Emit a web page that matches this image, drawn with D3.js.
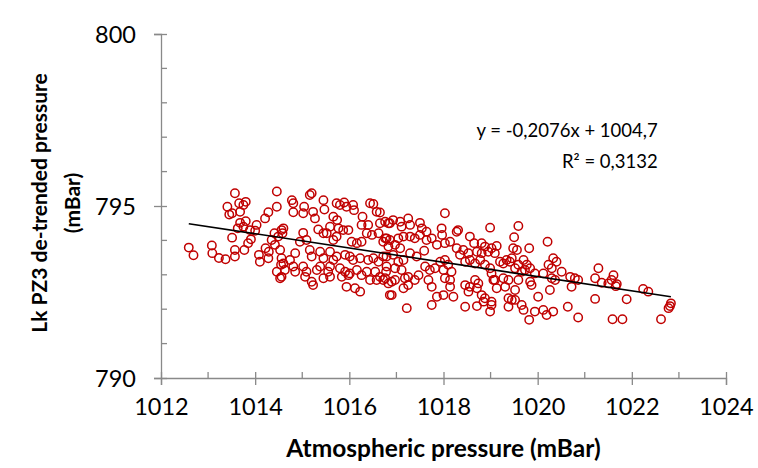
<!DOCTYPE html>
<html>
<head>
<meta charset="utf-8">
<script src="https://cdn.jsdelivr.net/npm/d3@7"></script>
<style>
  body { margin: 0; background: #fff; }
  svg { font-family: Lato, sans-serif; }
</style>
</head>
<body>
<svg id="chart"></svg>
<script>
// atmospheric pressure (mBar) vs Lk PZ3 de-trended pressure (mBar)
const points = [
  [1012.59,793.79],[1012.69,793.57],[1013.08,793.85],[1013.09,793.63],[1013.23,793.49],
  [1013.37,793.45],[1013.51,794.08],[1013.57,795.37],[1013.41,794.98],[1013.45,794.75],
  [1013.51,794.79],[1013.66,795.08],[1013.68,794.83],[1013.75,795.03],[1013.80,795.12],
  [1013.68,794.51],[1013.80,794.56],[1013.63,794.35],[1013.75,794.40],[1013.89,794.30],
  [1014.03,794.45],[1014.00,794.28],[1014.21,794.64],[1014.28,794.82],[1014.46,795.42],
  [1014.46,794.98],[1013.57,793.72],[1013.57,793.53],[1013.77,793.72],[1013.85,793.92],
  [1013.91,794.03],[1014.08,793.58],[1014.10,793.38],[1014.22,793.77],[1014.28,793.48],
  [1014.29,793.67],[1014.42,793.87],[1014.41,794.21],[1014.49,794.11],[1014.56,794.30],
  [1014.58,794.21],[1014.46,793.09],[1014.55,793.29],[1014.56,792.94],[1014.56,793.48],
  [1014.35,794.01],
  [1014.78,795.17],[1014.81,795.08],[1014.81,794.82],[1015.16,795.32],[1015.20,795.37],
  [1015.04,794.98],[1015.02,794.79],[1015.23,794.83],[1015.27,794.64],[1015.45,795.17],
  [1015.47,794.90],[1015.73,795.08],[1015.80,795.03],[1015.89,795.10],[1015.94,794.98],
  [1016.08,795.03],[1016.10,794.88],[1015.66,794.69],[1015.74,794.59],[1016.44,795.08],
  [1016.51,795.06],[1016.58,794.83],[1016.65,794.81],[1016.28,794.69],[1016.26,794.45],
  [1016.40,794.45],[1016.65,794.50],[1016.83,794.50],[1014.60,794.35],[1015.02,794.22],
  [1014.95,793.96],[1015.09,794.01],[1015.34,794.32],[1015.45,794.21],[1015.52,794.21],
  [1015.59,794.40],[1015.77,794.35],[1015.87,794.30],[1015.98,794.30],[1015.66,794.01],
  [1015.73,794.11],[1016.05,793.96],[1016.16,793.92],[1016.26,793.96],[1016.37,794.21],
  [1016.48,794.16],[1016.62,794.21],[1016.72,793.96],[1016.79,794.06],[1014.53,793.72],
  [1014.85,793.63],[1014.74,793.43],[1015.16,793.72],[1015.20,793.53],[1015.38,793.67],
  [1015.45,793.48],[1015.59,793.67],[1015.66,793.43],[1015.73,793.53],[1015.91,793.58],
  [1016.01,793.53],[1016.08,793.43],[1016.23,793.48],[1016.40,793.43],[1016.51,793.48],
  [1016.62,793.38],[1016.72,793.53],[1014.60,793.33],[1014.63,793.14],[1014.81,793.24],
  [1014.85,793.09],[1015.02,793.24],[1015.09,793.09],[1015.31,793.14],[1015.38,793.24],
  [1015.59,793.24],[1015.55,793.09],[1015.80,793.19],[1015.91,793.09],[1016.01,793.04],
  [1016.16,793.14],[1016.26,792.99],[1016.37,793.09],[1016.55,793.09],[1016.65,792.94],
  [1016.78,793.09],[1014.53,792.90],[1015.06,792.94],[1015.20,792.80],[1015.23,792.70],
  [1015.45,792.90],[1015.59,792.94],[1015.84,792.94],[1015.98,792.99],[1015.94,792.65],
  [1016.12,792.61],[1016.23,792.51],[1016.44,792.85],[1016.58,792.85],[1016.72,792.85],
  [1016.83,792.75],[1016.86,792.41],
  [1018.03,794.79],[1018.99,794.37],[1016.76,794.54],[1016.86,794.50],[1016.93,794.59],
  [1017.08,794.54],[1017.25,794.64],[1017.11,794.40],[1017.29,794.45],[1017.50,794.51],
  [1017.54,794.35],[1017.64,794.25],[1017.96,794.35],[1017.97,794.16],[1018.28,794.25],
  [1018.31,794.30],[1018.56,794.11],[1016.76,794.06],[1016.86,794.01],[1017.04,794.06],
  [1017.15,794.11],[1017.29,794.11],[1017.39,794.06],[1017.50,794.16],[1017.64,794.01],
  [1017.75,794.06],[1017.86,793.87],[1018.03,793.92],[1018.14,793.96],[1018.65,793.92],
  [1018.81,793.92],[1018.88,793.82],[1016.83,793.82],[1016.97,793.87],[1017.08,793.77],
  [1017.29,793.63],[1017.43,793.53],[1017.59,793.70],[1018.28,793.77],[1018.42,793.72],
  [1018.35,793.58],[1018.53,793.63],[1018.71,793.67],[1018.81,793.63],[1018.95,793.67],
  [1019.02,793.77],[1016.79,793.53],[1016.93,793.58],[1017.04,793.38],[1017.15,793.43],
  [1016.79,793.24],[1016.97,793.19],[1017.11,793.14],[1017.61,793.24],[1017.71,793.14],
  [1017.82,793.19],[1017.93,793.38],[1018.03,793.43],[1018.10,793.29],[1018.00,793.14],
  [1018.17,793.09],[1018.46,793.38],[1018.56,793.43],[1018.67,793.33],[1018.78,793.43],
  [1018.88,793.29],[1018.99,793.19],[1016.76,792.90],[1016.90,792.80],[1016.97,792.85],
  [1017.18,792.90],[1017.25,792.94],[1017.39,792.85],[1017.47,792.99],[1017.68,792.85],
  [1017.75,792.65],[1018.03,792.90],[1018.14,792.85],[1018.14,792.65],[1017.86,792.36],
  [1018.00,792.41],[1018.21,792.36],[1018.46,792.70],[1018.56,792.65],[1018.53,792.51],
  [1018.67,792.85],[1018.74,792.75],[1018.71,792.61],[1018.81,792.41],[1018.88,792.32],
  [1018.85,792.22],[1019.06,792.85],[1016.90,792.41],[1017.15,792.61],[1017.25,792.70],
  [1017.22,792.03],[1017.75,792.12],[1018.46,792.07],[1018.71,792.09],[1018.99,791.93],
  [1019.02,792.22],
  [1019.59,794.42],[1019.50,794.09],[1019.48,793.77],[1019.56,793.72],[1019.82,793.77],
  [1020.21,793.96],[1019.13,793.84],[1019.09,793.63],[1019.20,793.38],[1019.27,793.33],
  [1019.34,793.43],[1019.41,793.38],[1019.45,793.48],[1019.59,793.29],[1019.70,793.43],
  [1019.77,793.29],[1019.84,793.19],[1019.94,793.04],[1019.52,793.19],[1019.66,793.09],
  [1019.73,793.14],[1020.23,793.29],[1020.33,793.48],[1020.40,793.38],[1020.51,793.09],
  [1020.30,793.19],[1020.69,792.94],[1020.79,792.90],[1020.86,792.85],[1020.72,792.65],
  [1021.22,792.90],[1021.29,793.19],[1019.02,793.04],[1019.09,792.85],[1019.27,792.90],
  [1019.38,792.85],[1019.59,792.85],[1019.84,792.80],[1019.87,792.70],[1020.12,793.04],
  [1020.30,792.90],[1020.37,792.85],[1019.13,792.61],[1019.31,792.65],[1019.52,792.56],
  [1020.26,792.56],[1020.01,792.36],[1019.02,792.12],[1019.38,792.32],[1019.45,792.27],
  [1019.38,792.07],[1019.52,792.27],[1019.66,792.12],[1019.70,791.98],[1019.94,791.93],
  [1020.12,791.98],[1020.19,791.83],[1020.33,791.93],[1019.82,791.69],[1020.64,792.07],
  [1020.86,791.76],[1021.22,792.30],
  [1021.36,792.77],[1021.50,792.75],[1021.61,792.99],[1021.57,792.85],[1021.68,792.73],
  [1021.66,792.67],[1022.24,792.59],[1022.35,792.51],[1021.89,792.29],[1021.59,791.71],
  [1021.80,791.71],[1022.62,791.71],[1022.83,792.17],[1022.81,792.09],[1022.78,792.03]
];

const xTicks = [1012, 1014, 1016, 1018, 1020, 1022, 1024];
const yTicks = [790, 795, 800];
const trendSlope = -0.2076;
const trendIntercept = 1004.7;
const trendLabel = ["y = -0,2076x + 1004,7", "R\u00B2 = 0,3132"];

const W = 758, H = 468;
const margin = { top: 34, right: 32, bottom: 90, left: 161 },
  width = W - margin.left - margin.right,
  height = H - margin.top - margin.bottom;

const svgRoot = d3.select("#chart").attr("width", W).attr("height", H);
const svg = svgRoot.append("g")
  .attr("transform", `translate(${margin.left},${margin.top})`);

const x = d3.scaleLinear().domain([1012, 1024]).range([0, width]);
const y = d3.scaleLinear().domain([790, 800]).range([height, 0]);

const axisColor = "#898989";

// minor ticks (inside only)
svg.append("g")
  .selectAll("line")
  .data(d3.range(1013, 1024, 2))
  .join("line")
  .attr("x1", (d) => x(d)).attr("x2", (d) => x(d))
  .attr("y1", height).attr("y2", height - 6)
  .attr("stroke", axisColor).attr("stroke-width", 1.3);

svg.append("g")
  .selectAll("line")
  .data(d3.range(791, 800).filter((d) => d !== 795))
  .join("line")
  .attr("x1", 0).attr("x2", 6)
  .attr("y1", (d) => y(d)).attr("y2", (d) => y(d))
  .attr("stroke", axisColor).attr("stroke-width", 1.3);

// x axis
const gx = svg.append("g")
  .attr("transform", `translate(0,${height})`)
  .call(d3.axisBottom(x).tickValues(xTicks).tickFormat(d3.format("d")).tickSize(7).tickPadding(13));
gx.select(".domain").attr("stroke", axisColor).attr("stroke-width", 1.3);
gx.selectAll(".tick line").attr("y1", -6).attr("stroke", axisColor).attr("stroke-width", 1.3);
gx.selectAll(".tick text").attr("font-size", "23.5px").attr("fill", "#000")
  .attr("font-family", "Lato, sans-serif");

// y axis
const gy = svg.append("g")
  .call(d3.axisLeft(y).tickValues(yTicks).tickSize(7).tickPadding(18));
gy.select(".domain").attr("stroke", axisColor).attr("stroke-width", 1.3);
gy.selectAll(".tick line").attr("x1", 6).attr("stroke", axisColor).attr("stroke-width", 1.3);
gy.selectAll(".tick text").attr("font-size", "23.5px").attr("fill", "#000")
  .attr("font-family", "Lato, sans-serif").attr("dy", "0.36em");

// points
svg.append("g")
  .selectAll("circle")
  .data(points)
  .join("circle")
  .attr("cx", (d) => x(d[0]))
  .attr("cy", (d) => y(d[1]))
  .attr("r", 4.2)
  .attr("fill", "none")
  .attr("stroke", "#c00000")
  .attr("stroke-width", 1.5);

// linear trendline over the data range
const xExt = d3.extent(points, (d) => d[0]);
svg.append("path")
  .datum(xExt.map((v) => [v, trendSlope * v + trendIntercept]))
  .attr("fill", "none")
  .attr("stroke", "#000")
  .attr("stroke-width", 1.6)
  .attr("d", d3.line().x((d) => x(d[0])).y((d) => y(d[1])));

// equation label
svg.append("g")
  .selectAll("text")
  .data(trendLabel)
  .join("text")
  .attr("x", x(1022.55))
  .attr("y", (d, i) => y(797.0) + i * 31)
  .attr("text-anchor", "end")
  .attr("font-family", "Lato, sans-serif")
  .attr("font-size", "18.5px")
  .attr("fill", "#000")
  .text((d) => d);

// axis titles
svg.append("text")
  .attr("x", width / 2)
  .attr("y", height + 79)
  .attr("text-anchor", "middle")
  .attr("font-family", "Lato, sans-serif")
  .attr("font-weight", "bold")
  .attr("font-size", "24.5px")
  .text("Atmospheric pressure (mBar)");

const yTitle = svg.append("text")
  .attr("transform", `translate(${-114},${height / 2 - 3}) rotate(-90)`)
  .attr("text-anchor", "middle")
  .attr("font-family", "Lato, sans-serif")
  .attr("font-weight", "bold")
  .attr("font-size", "21px");
yTitle.append("tspan").attr("x", 0).attr("dy", 0).text("Lk PZ3 de-trended pressure");
yTitle.append("tspan").attr("x", 0).attr("dy", 33).text("(mBar)");
</script>
</body>
</html>
